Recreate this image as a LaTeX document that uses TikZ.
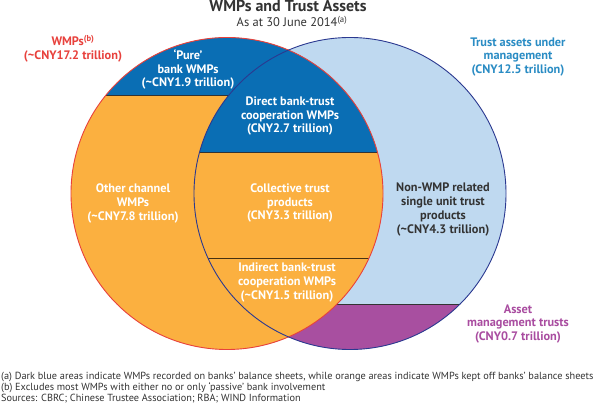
\documentclass[tikz,border=0pt]{standalone}
\usepackage{fontspec}
\setmainfont{PT Sans}
\definecolor{orng}{HTML}{FBB040}
\definecolor{dblue}{HTML}{0A6EB4}
\definecolor{lblue}{HTML}{BFD9F0}
\definecolor{purp}{HTML}{A84FA0}
\definecolor{redl}{HTML}{E8413C}
\definecolor{navy}{HTML}{2B3990}
\definecolor{teal}{HTML}{2A8CC4}
\definecolor{ptxt}{HTML}{A94CA0}
\definecolor{dtxt}{HTML}{333333}
\begin{document}
\begin{tikzpicture}[x=1pt,y=-1pt,
  lbl/.style={align=center,font=\bfseries\fontsize{12.3}{13.8}\selectfont,inner sep=0pt},
  wlbl/.style={lbl,text=white},
  sepline/.style={draw=dtxt,line width=0.9pt},
  note/.style={anchor=base west,inner sep=0pt,font=\fontsize{10.3}{11}\selectfont,text=dtxt}]
\useasboundingbox (0,0) rectangle (600,406);
\fill[white] (0,0) rectangle (600,406);
% right circle (trust assets)
\fill[lblue] (350,193.5) circle[radius=156];
\begin{scope}
  \clip (350,193.5) circle[radius=156];
  \fill[purp] (0,304) rectangle (600,406);
\end{scope}
% left circle (WMPs)
\fill[orng] (227,193.5) circle[radius=156];
\begin{scope}
  \clip (227,193.5) circle[radius=156];
  \fill[dblue] (0,0) rectangle (600,95);
  \clip (350,193.5) circle[radius=156];
  \fill[dblue] (0,0) rectangle (600,152);
\end{scope}
% separating lines
\draw[sepline] (106,95) -- (229,95);
\draw[sepline] (199.6,152) -- (377.4,152);
\draw[sepline,draw=black!60!orng!70!black] (208,258) -- (369,258);
\draw[sepline] (337,304) -- (460,304);
% outlines
\draw[redl,line width=0.9pt] (227,193.5) circle[radius=156];
\draw[navy,line width=0.9pt] (350,193.5) circle[radius=156];
% titles
\node[anchor=base,inner sep=0pt,font=\bfseries\fontsize{16}{18}\selectfont,text=dtxt] (title) at (288,12) {WMPs and Trust Assets};
\node[anchor=base,inner sep=0pt,font=\fontsize{12.5}{14}\selectfont,text=dtxt] (sub) at (292,27) {As at 30 June 2014\textsuperscript{(a)}};
% labels
\node[lbl,text=redl] (wmp) at (73,49) {WMPs\textsuperscript{(b)}\\(\textasciitilde CNY17.2 trillion)};
\node[lbl,text=teal] (tam) at (518,57) {Trust assets under\\management\\(CNY12.5 trillion)};
\node[wlbl] (pure) at (188,69.5) {‘Pure’\\bank WMPs\\(\textasciitilde CNY1.9 trillion)};
\node[wlbl] (direct) at (290,116) {Direct bank-trust\\cooperation WMPs\\(CNY2.7 trillion)};
\node[wlbl] (coll) at (290,203) {Collective trust\\products\\(CNY3.3 trillion)};
\node[wlbl] (indir) at (287,282.5) {Indirect bank-trust\\cooperation WMPs\\(\textasciitilde CNY1.5 trillion)};
\node[wlbl] (other) at (133,203.5) {Other channel\\WMPs\\(\textasciitilde CNY7.8 trillion)};
\node[lbl,text=dtxt] (nonwmp) at (443,209.5) {Non-WMP related\\single unit trust\\products\\(\textasciitilde CNY4.3 trillion)};
\node[lbl,text=ptxt] (amt) at (518,324) {Asset\\management trusts\\(CNY0.7 trillion)};
% notes
\node[note] (na) at (1,379) {(a) Dark blue areas indicate WMPs recorded on banks’ balance sheets, while orange areas indicate WMPs kept off banks’ balance sheets};
\node[note] (nb) at (1,390) {(b) Excludes most WMPs with either no or only ‘passive’ bank involvement};
\node[note] (ns) at (1,401) {Sources: CBRC; Chinese Trustee Association; RBA; WIND Information};
\end{tikzpicture}
\end{document}
